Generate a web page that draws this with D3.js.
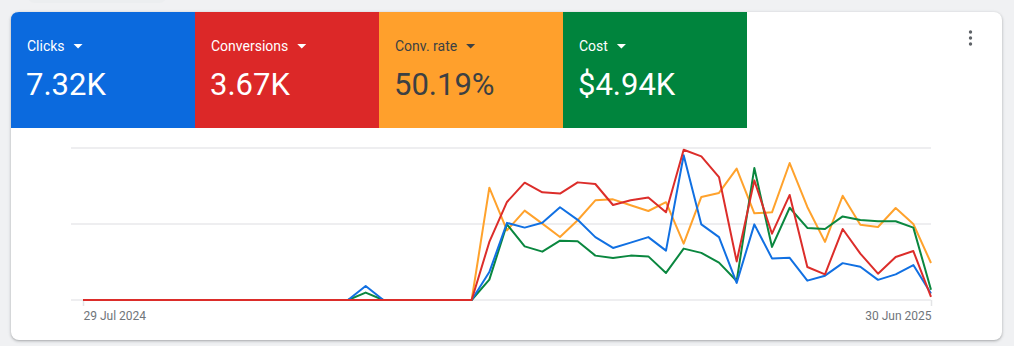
<!DOCTYPE html>
<html>
<head>
<meta charset="utf-8">
<script src="https://cdn.jsdelivr.net/npm/d3@7"></script>
<style>
  html, body { margin: 0; padding: 0; }
  body { width: 1014px; height: 346px; background: #f0f1f3; position: relative; overflow: hidden;
         font-family: Roboto, "Noto Sans", Arial, sans-serif; }
  .ghost { position: absolute; left: 27px; top: -20px; width: 140px; height: 23px; border-radius: 8px;
           background: #eceef0; }
  .card { position: absolute; left: 11px; top: 12px; width: 991px; height: 328px; background: #fff;
          border-radius: 8px; overflow: hidden;
          box-shadow: 0 1px 2px rgba(60,64,67,0.28), 0 1px 3px 1px rgba(60,64,67,0.12); }
  svg { position: absolute; left: 0; top: 0; }
</style>
</head>
<body>
<div class="ghost"></div>
<div class="card"></div>
<svg id="chart" width="1014" height="346"></svg>
<script>
// Scorecard metrics
const metricNames = ["Clicks", "Conversions", "Conv. rate", "Cost"];
const metricTotals = ["7.32K", "3.67K", "50.19%", "$4.94K"];

// Weekly series, 29 Jul 2024 .. 30 Jun 2025 (49 weeks)
const clicks = [0,0,0,0,0,0,0,0,0,0,0,0,0,0,0,0,74,0,0,0,0,0,0,
  147,406,381,407,488,422,331,274,302,331,260,762,398,331,90,398,219,222,102,128,194,175,106,135,184,34];
const conversions = [0,0,0,0,0,0,0,0,0,0,0,0,0,0,0,0,0,0,0,0,0,0,0,
  99.3,167.7,200.7,184.1,182.0,201.2,198.4,162.5,170.6,175.5,150.0,257.1,245.7,210.3,66.0,204.6,113.4,179.7,56.4,43.9,121.4,79.3,45.0,73.6,83.7,5.2];
const convRate = [0,0,0,0,0,0,0,0,0,0,0,0,0,0,0,0,0,0,0,0,0,0,0,
  66.5,41.2,52.9,45.2,37.3,47.2,59.0,59.6,56.1,52.7,57.9,33.4,61.0,63.4,77.8,51.3,51.9,81.1,55.1,34.4,61.7,44.6,43.2,54.5,45.0,21.9];
const cost = [0,0,0,0,0,0,0,0,0,0,0,0,0,0,0,0,24.5,0,0,0,0,0,0,
  67,249,176.5,159,195,193,146,138,146,143.5,89,169,155,123,62.5,434,174.5,303.5,237,233.5,275,263,259,259,238,34];

// Each metric is plotted against its own axis
const axisMax = [800, 260, 90, 500];

const startDate = new Date(2024, 6, 29);
const endDate = new Date(2025, 5, 30);
const tickDates = [startDate, endDate];
const tickLabels = ["29 Jul 2024", "30 Jun 2025"];

const tileFill = ["#0b6ade", "#dc2828", "#ffa02c", "#00843d"];
const tileText = ["#ffffff", "#ffffff", "#3c4043", "#ffffff"];
const lineColor = ["#1170e2", "#dc2d2a", "#ffa22c", "#0a873f"];

const svg = d3.select("#chart");

// ---- scorecard tiles ----
const tileX = d3.scaleBand().domain(d3.range(metricNames.length)).range([11, 747]);
const tiles = svg.append("g");
const clipR = 8;
tiles.selectAll("path.tile").data(metricNames).join("path")
  .attr("class", "tile")
  .attr("fill", (d, i) => tileFill[i])
  .attr("d", (d, i) => {
    const x0 = tileX(i), x1 = x0 + tileX.bandwidth(), y0 = 12, y1 = 128;
    if (i === 0) {
      return `M${x0},${y1}V${y0 + clipR}Q${x0},${y0} ${x0 + clipR},${y0}H${x1}V${y1}Z`;
    }
    return `M${x0},${y0}H${x1}V${y1}H${x0}Z`;
  });

metricNames.forEach((name, i) => {
  const x = tileX(i) + 16;
  const lbl = tiles.append("text")
    .attr("x", x).attr("y", 51)
    .attr("fill", tileText[i])
    .attr("font-size", 14)
    .text(name);
  const w = lbl.node().getComputedTextLength();
  const cx = x + w + 9;
  tiles.append("path")
    .attr("d", `M${cx},44L${cx + 9},44L${cx + 4.5},48.5Z`)
    .attr("fill", tileText[i]);
  tiles.append("text")
    .attr("x", x - 1).attr("y", 95)
    .attr("fill", tileText[i])
    .attr("font-size", 31)
    .text(metricTotals[i]);
});

// more-options menu
svg.append("g").selectAll("circle").data([0, 1, 2]).join("circle")
  .attr("cx", 970.5).attr("cy", d => 32 + d * 6).attr("r", 1.7).attr("fill", "#5f6368");

// ---- line chart ----
const plotBottom = 300, plotTop = 148;
const x = d3.scaleTime().domain([startDate, endDate]).range([83, 931]);
const weeks = d3.timeMonday.range(startDate, d3.timeDay.offset(endDate, 1));
const grid = d3.scaleLinear().domain([0, 1]).range([plotBottom, plotTop]);

svg.append("g").selectAll("line").data([0, 0.5, 1]).join("line")
  .attr("x1", 71).attr("x2", 931)
  .attr("y1", d => grid(d)).attr("y2", d => grid(d))
  .attr("stroke", "#e8e9eb").attr("stroke-width", 1.5);

const axis = d3.axisBottom(x)
  .tickValues(tickDates)
  .tickSize(6)
  .tickFormat((d, i) => tickLabels[i]);
const ax = svg.append("g").attr("transform", `translate(0,${plotBottom})`).call(axis);
ax.select(".domain").remove();
ax.selectAll(".tick line").attr("stroke", "#e3e4e6").attr("stroke-width", 1.5);
ax.selectAll(".tick text")
  .attr("y", 19.5).attr("dy", 0)
  .attr("fill", "#70757a")
  .attr("font-size", 12)
  .attr("font-family", "Roboto, 'Noto Sans', Arial, sans-serif")
  .attr("text-anchor", (d, i) => i === 0 ? "start" : "end");

const seriesList = [clicks, conversions, convRate, cost];
const drawOrder = [2, 3, 0, 1];
drawOrder.forEach(k => {
  const y = d3.scaleLinear().domain([0, axisMax[k]]).range([plotBottom, plotTop]);
  const line = d3.line()
    .x((d, i) => x(weeks[i]))
    .y(d => y(d));
  svg.append("path")
    .datum(seriesList[k])
    .attr("d", line)
    .attr("fill", "none")
    .attr("stroke", lineColor[k])
    .attr("stroke-width", 2)
    .attr("stroke-linejoin", "round");
});
</script>
</body>
</html>
